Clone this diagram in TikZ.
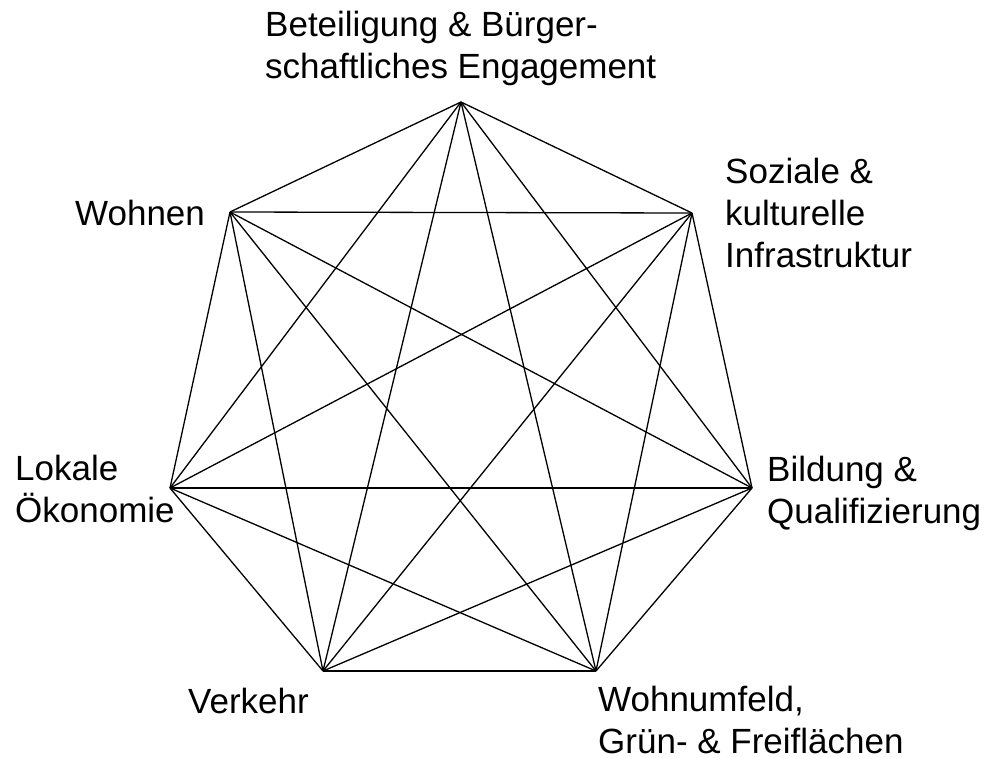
\documentclass[tikz,border=0pt]{standalone}
\usepackage{fontspec}
\setmainfont{Liberation Sans}
\begin{document}
\begin{tikzpicture}[x=1pt,y=-1pt,
  edge/.style={line width=1.3pt,black},
  lbl/.style={anchor=base west,inner sep=0pt,align=left,font=\fontsize{35}{42}\selectfont}]
\useasboundingbox (0,0) rectangle (986,758);
\coordinate (T) at (461,102);
\coordinate (UR) at (692,213);
\coordinate (R) at (752,488);
\coordinate (LR) at (596,671);
\coordinate (LL) at (323,671);
\coordinate (L) at (170,488);
\coordinate (UL) at (230,212);
\foreach \a/\b in {T/UR,T/R,T/LR,T/LL,T/L,T/UL,
  UR/R,UR/LR,UR/LL,UR/L,UR/UL,
  R/LR,R/LL,R/L,R/UL,
  LR/LL,LR/L,LR/UL,
  LL/L,LL/UL,
  L/UL}
  \draw[edge] (\a) -- (\b);
\node[lbl] (t1) at (265,78) {Beteiligung \& Bürger-\\schaftliches Engagement};
\node[lbl] (t2) at (725,267) {Soziale \&\\kulturelle\\Infrastruktur};
\node[lbl] (t3) at (767,523) {Bildung \&\\Qualifizierung};
\node[lbl] (t4) at (598,753) {Wohnumfeld,\\Grün- \& Freiflächen};
\node[lbl] (t5) at (188,713) {Verkehr};
\node[lbl] (t6) at (15,522) {Lokale\\Ökonomie};
\node[lbl] (t7) at (75,225) {Wohnen};
\end{tikzpicture}
\end{document}
